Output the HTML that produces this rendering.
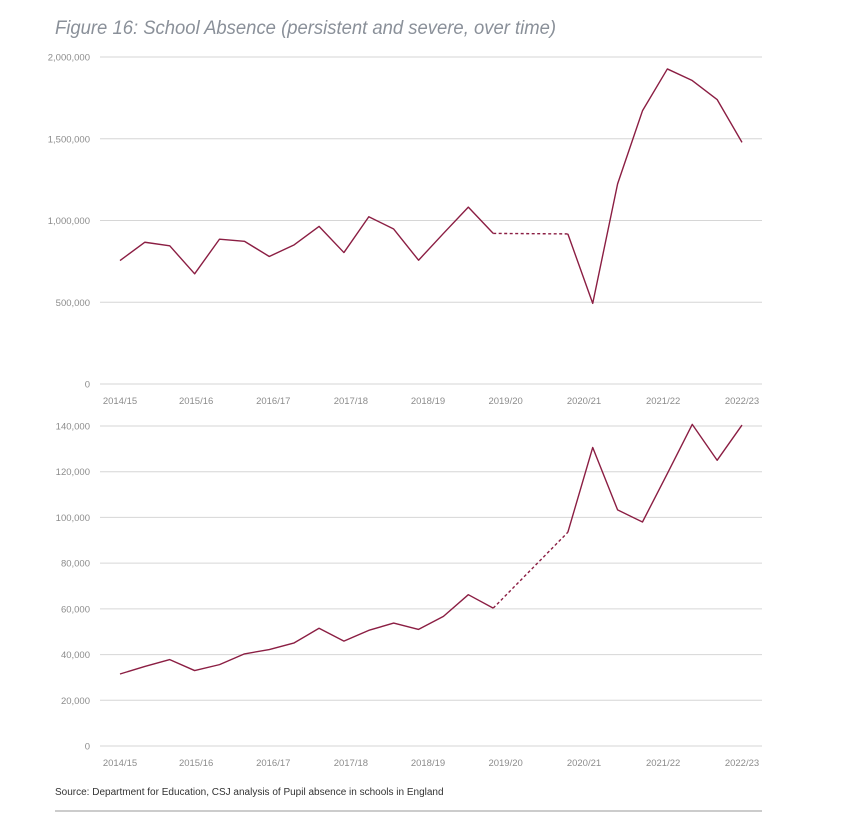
<!DOCTYPE html>
<html><head><meta charset="utf-8"><style>
body{margin:0;background:#fff;width:855px;height:828px;overflow:hidden;font-family:"Liberation Sans",sans-serif}
svg{position:absolute;left:0;top:0}
</style></head><body>
<svg width="855" height="828">
<text x="55" y="34" font-size="19.5" font-style="italic" fill="#8a9099" textLength="501" lengthAdjust="spacingAndGlyphs">Figure 16: School Absence (persistent and severe, over time)</text>
<g id="top"></g><g id="bot"></g>
<text x="55" y="795" font-size="10" fill="#333">Source: Department for Education, CSJ analysis of Pupil absence in schools in England</text>
<line x1="55" y1="811" x2="762" y2="811" stroke="#999" stroke-width="1"/>
</svg>
<script>
const xLabels=["2014/15","2015/16","2016/17","2017/18","2018/19","2019/20","2020/21","2021/22","2022/23"];
const xLabelIdx=[0,3.06,6.16,9.28,12.38,15.5,18.65,21.83,25];
const persistent=[755000,867000,845000,674000,886000,873000,780000,851000,964000,804000,1023000,948000,757000,921000,1082000,921000,null,null,918000,493000,1224000,1671000,1927000,1856000,1740000,1478000];
const severe=[31500,34800,37800,33000,35600,40300,42200,45100,51500,45900,50600,53800,51000,56700,66200,60300,null,null,93500,130600,103300,98000,119200,140700,125000,140400];
const topTicks=[0,500000,1000000,1500000,2000000];
const botTicks=[0,20000,40000,60000,80000,100000,120000,140000];
const NS="http://www.w3.org/2000/svg";
function mk(p,t,a){const e=document.createElementNS(NS,t);for(const k in a)e.setAttribute(k,a[k]);p.appendChild(e);return e;}
function draw(g,data,ticks,max,y0,y1,lblY,nm){
  const xs=i=>120+i*(742-120)/25;
  const ys=v=>y0-(v/max)*(y0-y1);
  ticks.forEach(t=>{
    const l=mk(g,'line',{x1:100,x2:762,y1:ys(t),y2:ys(t),stroke:'#d6d6d6','stroke-width':1});
    
    
    const tx=mk(g,'text',{x:90,y:ys(t)+3.5,'text-anchor':'end','font-size':9.5,fill:'#8c8c8c'});
    tx.textContent=t.toLocaleString('en-US');
    
    
  });
  xLabels.forEach((s,i)=>{
    const tx=mk(g,'text',{x:xs(xLabelIdx[i]),y:lblY,'text-anchor':'middle','font-size':9.5,fill:'#8c8c8c'});
    tx.textContent=s;
    
    
  });
  let solid=[],seg='';
  data.forEach((v,i)=>{if(v==null){if(seg)solid.push(seg);seg='';}else seg+=(seg?'L':'M')+xs(i)+','+ys(v);});
  if(seg)solid.push(seg);
  solid.forEach(d=>{const p=mk(g,'path',{d:d,fill:'none',stroke:'#8b1e43','stroke-width':1.4,'stroke-linejoin':'round'});
    
    });
  let a=-1,b=-1;data.forEach((v,i)=>{if(v==null){if(a<0)a=i-1;b=i+1;}});
  if(a>=0){const p=mk(g,'line',{x1:xs(a),y1:ys(data[a]),x2:xs(b),y2:ys(data[b]),stroke:'#8b1e43','stroke-width':1.4,'stroke-dasharray':'3,2.5'});
    
    }
}
draw(document.getElementById('top'),persistent,topTicks,2000000,384,57,404,'persistent');
draw(document.getElementById('bot'),severe,botTicks,140000,746,426,766,'severe');
</script>
</body></html>
